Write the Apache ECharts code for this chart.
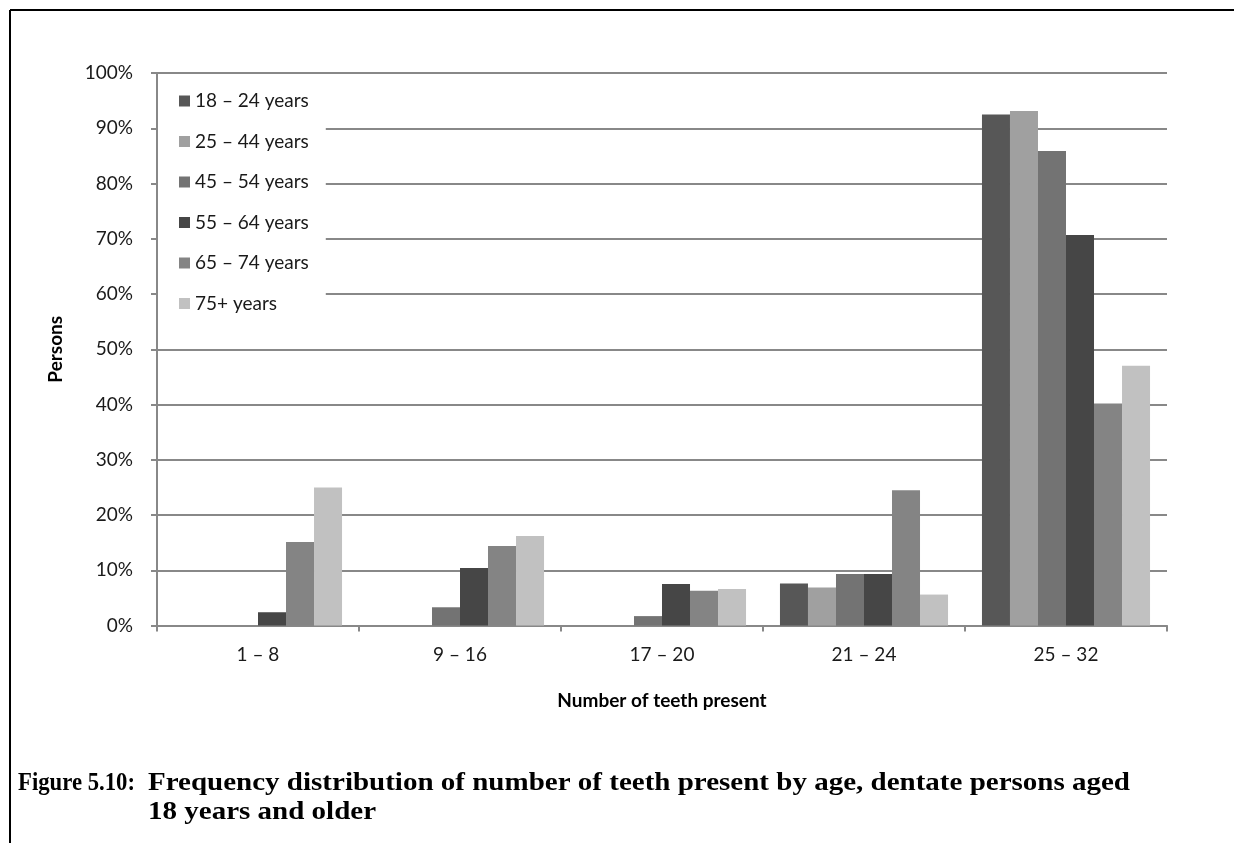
<!DOCTYPE html>
<html>
<head>
<meta charset="utf-8">
<script src="https://cdn.jsdelivr.net/npm/echarts@6/dist/echarts.min.js"></script>
<style>
html,body{margin:0;padding:0;background:#fff;}
#chart{width:1234px;height:843px;}
</style>
</head>
<body>
<div id="chart"></div>
<script>
const categories = ['1 – 8', '9 – 16', '17 – 20', '21 – 24', '25 – 32'];
const yTicks = [0, 10, 20, 30, 40, 50, 60, 70, 80, 90, 100];
const age18_24 = [0, 0, 0, 7.6, 92.5];
const age25_44 = [0, 0, 0, 6.9, 93.1];
const age45_54 = [0, 3.3, 1.7, 9.3, 85.9];
const age55_64 = [2.4, 10.4, 7.5, 9.3, 70.7];
const age65_74 = [15.1, 14.4, 6.3, 24.5, 40.2];
const age75plus = [25.0, 16.2, 6.6, 5.6, 47.0];
const seriesNames = ['18 – 24 years', '25 – 44 years', '45 – 54 years', '55 – 64 years', '65 – 74 years', '75+ years'];
const seriesValues = [age18_24, age25_44, age45_54, age55_64, age65_74, age75plus];
const seriesColors = ['#575757', '#a0a0a0', '#737373', '#464646', '#848484', '#c1c1c1'];
const captionLabel = 'Figure 5.10:';
const captionLine1 = 'Frequency distribution of number of teeth present by age, dentate persons aged';
const captionLine2 = '18 years and older';

const FONT = 'Lato, "Open Sans", sans-serif';
const CAP_FONT = 'bold 25px "Liberation Serif", serif';

// horizontal fitting of caption text to the widths seen in the figure
const measureCtx = document.createElement('canvas').getContext('2d');
measureCtx.font = CAP_FONT;
const capScale = (1130 - 148) / measureCtx.measureText(captionLine1).width;
const labelScale = (135 - 18) / measureCtx.measureText(captionLabel).width;

const chart = echarts.init(document.getElementById('chart'), null, {renderer: 'canvas'});
const option = {
  backgroundColor: '#ffffff',
  animation: false,
  grid: {left: 157, right: 67, top: 73, bottom: 217.5, containLabel: false},
  legend: {
    orient: 'vertical',
    left: 158, top: 81,
    padding: [10, 17, 8, 21],
    backgroundColor: '#ffffff',
    itemWidth: 11, itemHeight: 11,
    itemGap: 20.5,
    icon: 'rect',
    textStyle: {fontFamily: FONT, fontSize: 19, color: '#1a1a1a', lineHeight: 20},
    data: seriesNames
  },
  xAxis: {
    type: 'category',
    data: categories,
    name: 'Number of teeth present',
    nameLocation: 'middle',
    nameGap: 66,
    nameTextStyle: {fontFamily: FONT, fontSize: 19, fontWeight: 'bold', color: '#000'},
    axisLine: {lineStyle: {color: '#888', width: 2}},
    axisTick: {show: true, length: 6, lineStyle: {color: '#888', width: 2}},
    axisLabel: {fontFamily: FONT, fontSize: 19, color: '#1a1a1a', margin: 20}
  },
  yAxis: {
    type: 'value',
    min: 0, max: 100, interval: 10,
    name: 'Persons',
    nameLocation: 'middle',
    nameGap: 92,
    nameTextStyle: {fontFamily: FONT, fontSize: 19, fontWeight: 'bold', color: '#000'},
    axisLine: {show: true, lineStyle: {color: '#888', width: 2}},
    axisTick: {show: true, length: 6, lineStyle: {color: '#888', width: 2}},
    axisLabel: {fontFamily: FONT, fontSize: 19, color: '#1a1a1a', margin: 24,
      formatter: v => (yTicks.indexOf(v) >= 0 ? v + '%' : '')},
    splitLine: {show: true, lineStyle: {color: '#888', width: 2}}
  },
  series: seriesNames.map((n, i) => ({
    name: n,
    type: 'bar',
    data: seriesValues[i],
    barGap: '0%',
    barCategoryGap: '16.8%',
    itemStyle: {color: seriesColors[i]}
  })),
  graphic: [
    {type: 'line', shape: {x1: 10, y1: 10, x2: 1234, y2: 10}, style: {stroke: '#000', lineWidth: 2}, z: 100},
    {type: 'line', shape: {x1: 10, y1: 10, x2: 10, y2: 843}, style: {stroke: '#000', lineWidth: 2}, z: 100},
    {type: 'text', x: 18, y: 771, scaleX: labelScale, style: {x: 0, y: 0, text: captionLabel, font: CAP_FONT, fill: '#000'}},
    {type: 'text', x: 148, y: 771, scaleX: capScale, style: {x: 0, y: 0, text: captionLine1, font: CAP_FONT, fill: '#000'}},
    {type: 'text', x: 148, y: 800, scaleX: capScale, style: {x: 0, y: 0, text: captionLine2, font: CAP_FONT, fill: '#000'}}
  ]
};
chart.setOption(option);
</script>
</body>
</html>
